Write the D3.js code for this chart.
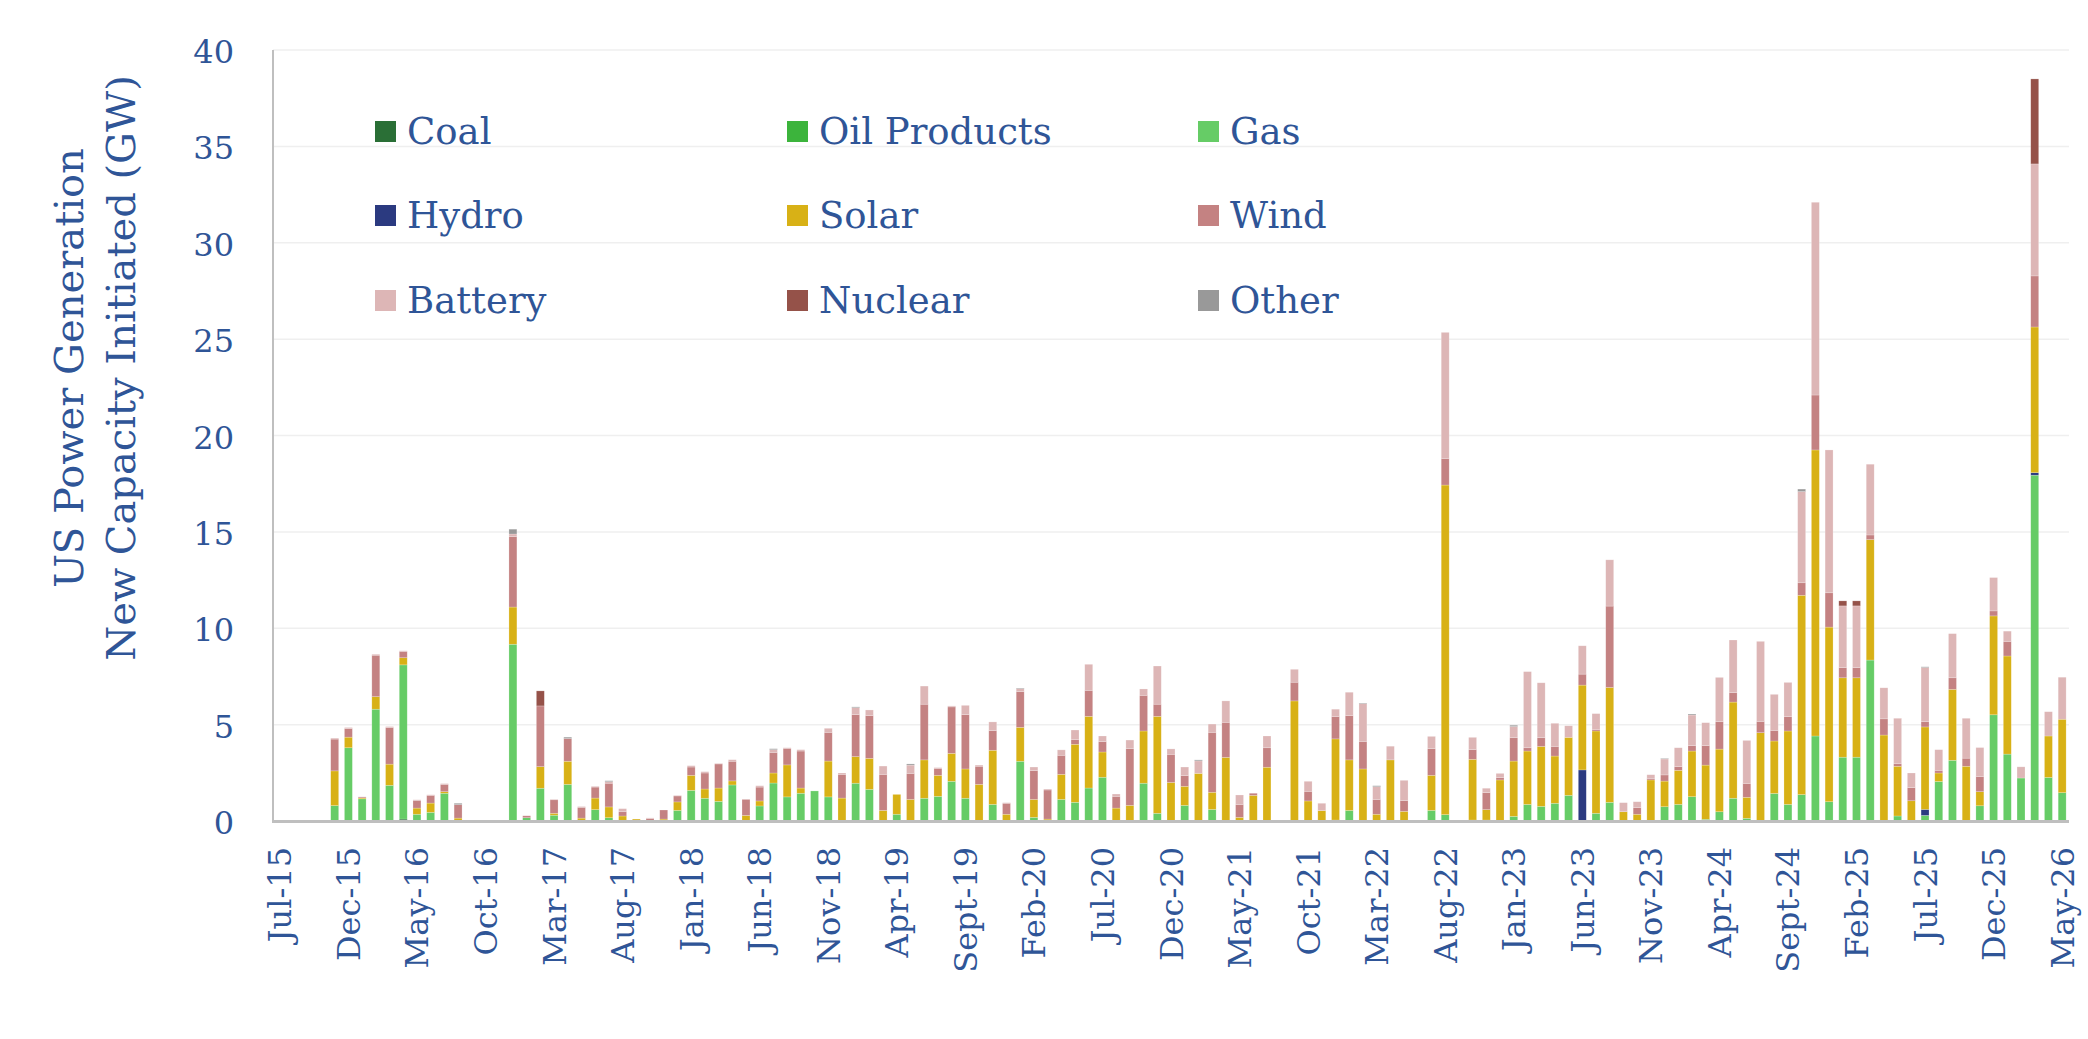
<!DOCTYPE html>
<html>
<head>
<meta charset="utf-8">
<script src="https://cdn.jsdelivr.net/npm/d3@7"></script>
<style>
  body { margin: 0; background: #fff; }
  svg text { font-family: "DejaVu Serif", "Liberation Serif", serif; fill: #2F5597; }
</style>
</head>
<body>
<div id="chart"></div>
<script>
// monthly categories, Jul-15 .. May-26
var months = d3.timeMonth.range(new Date(2015, 6, 1), new Date(2026, 5, 1));

// every 5th month is labelled
var tickLabels = ["Jul-15","Dec-15","May-16","Oct-16","Mar-17","Aug-17","Jan-18","Jun-18","Nov-18",
  "Apr-19","Sept-19","Feb-20","Jul-20","Dec-20","May-21","Oct-21","Mar-22","Aug-22","Jan-23",
  "Jun-23","Nov-23","Apr-24","Sept-24","Feb-25","Jul-25","Dec-25","May-26"];

var yTicks = [0, 5, 10, 15, 20, 25, 30, 35, 40];

// GW initiated per month, one row = 10 months
var coal = [
  0,0,0,0,0,0,0,0,0,0.1,
  0,0,0,0,0,0,0,0,0,0,
  0,0,0,0,0,0,0,0,0,0,
  0,0,0,0,0,0,0,0,0,0,
  0,0,0,0,0,0,0,0,0,0,
  0,0,0,0,0,0,0,0,0,0,
  0,0,0,0,0,0,0,0,0,0,
  0,0,0,0,0,0,0,0,0,0,
  0,0,0,0,0,0,0,0,0,0,
  0,0,0,0,0,0,0,0,0,0,
  0,0,0,0,0,0,0,0,0,0,
  0,0,0,0,0,0,0,0,0,0,
  0,0,0,0,0,0,0,0,0,0,
  0];
var oil = [
  0,0,0,0,0,0,0,0,0,0,
  0,0,0,0,0,0,0,0,0,0,
  0,0,0,0,0,0,0,0,0,0,
  0,0,0,0,0,0,0,0,0,0,
  0,0,0,0,0,0,0,0,0,0,
  0,0,0,0,0,0,0,0,0,0,
  0,0,0,0,0,0,0,0,0,0,
  0,0,0,0,0,0,0,0,0,0,
  0,0,0,0,0,0,0,0,0,0,
  0,0,0,0,0,0,0,0,0,0,
  0,0,0,0,0,0,0,0,0,0,
  0,0,0,0,0,0,0,0,0,0,
  0,0,0,0,0,0,0,0,0,0,
  0];
var gas = [
  0,0,0,0,0.8,3.8,1.15,5.8,1.85,8.0,
  0.35,0.45,1.44,0,0,0,0,9.17,0.17,1.7,
  0.3,1.9,0,0.59,0.17,0,0,0,0,0.55,
  1.59,1.18,1.02,1.87,0,0.78,1.97,1.25,1.44,1.56,
  1.25,0,1.96,1.64,0,0.35,0,1.18,1.28,2.06,
  1.18,0,0.86,0,3.1,0.19,0,1.12,0.97,1.71,
  2.27,0,0,1.96,0.4,0,0.81,0,0.6,0,
  0,0,0,0,0,0,0,0.05,0.55,0,
  0,0,0.03,0,0.55,0.33,0,0.05,0.05,0,
  0.24,0.86,0.76,0.92,1.33,0,0.4,0.97,0,0,
  0,0.74,0.86,1.26,0.09,0.48,1.18,0.14,0,1.43,
  0.86,1.37,4.41,1.0,3.31,3.31,8.35,0,0.26,0,
  0.29,2.05,3.15,0,0.79,5.51,3.47,2.23,17.94,2.26,
  1.47];
var hydro = [
  0,0,0,0,0,0,0,0,0,0,
  0,0,0,0,0,0,0,0,0,0,
  0,0,0,0,0,0,0,0,0,0,
  0,0,0,0,0,0,0,0,0,0,
  0,0,0,0,0,0,0,0,0,0,
  0,0,0,0,0,0,0,0,0,0,
  0,0,0,0,0,0,0,0,0,0,
  0,0,0,0,0,0,0,0,0,0,
  0,0,0,0,0,0,0,0,0,0,
  0,0,0,0,0,2.65,0,0,0,0,
  0,0,0,0,0,0,0,0,0,0,
  0,0,0,0,0,0,0,0,0,0,
  0.31,0,0,0,0,0,0,0,0.13,0,
  0];
var solar = [
  0,0,0,0,1.8,0.55,0.05,0.65,1.1,0.37,
  0.32,0.48,0.08,0.15,0,0,0,1.93,0,1.12,
  0.1,1.2,0.15,0.6,0.56,0.26,0.1,0,0.1,0.44,
  0.78,0.48,0.69,0.21,0.29,0.26,0.52,1.66,0.27,0,
  1.86,1.19,1.38,1.61,0.55,1.03,1.12,1.99,1.09,1.45,
  1.52,1.9,2.81,0.35,1.76,0.93,0.1,1.3,3.01,3.72,
  1.31,0.67,0.81,2.71,5.03,2.0,0.99,2.47,0.89,3.3,
  0.19,1.33,2.79,0,6.23,1.04,0.54,4.21,2.62,2.7,
  0.35,3.17,0.47,0,1.82,17.1,0,3.15,0.54,2.13,
  2.87,2.77,3.11,2.45,3.01,4.4,4.27,5.96,0.48,0.35,
  2.13,1.33,1.77,2.37,2.81,3.25,4.99,1.09,4.58,2.72,
  3.81,10.34,14.84,9.06,4.12,4.12,6.25,4.46,2.58,1.05,
  4.28,0.44,3.68,2.84,0.73,5.13,5.09,0,7.56,2.15,
  3.81];
var wind = [
  0,0,0,0,1.65,0.45,0.05,2.15,1.9,0.33,
  0.4,0.4,0.38,0.7,0,0,0,3.65,0.1,3.15,
  0.7,1.18,0.56,0.57,1.23,0.22,0,0.12,0.47,0.31,
  0.43,0.83,1.25,1.02,0.83,0.72,1.07,0.86,1.92,0,
  1.49,1.23,2.18,2.22,1.87,0,1.35,2.89,0.36,2.41,
  2.82,0.94,1.02,0.57,1.85,1.49,1.51,0.99,0.24,1.35,
  0.54,0.61,2.94,1.85,0.63,1.46,0.55,0,3.11,1.82,
  0.67,0.11,1.01,0,0.97,0.5,0,1.16,2.3,1.43,
  0.77,0,0.56,0,1.38,1.38,0,0.5,0.88,0.12,
  1.21,0.17,0.45,0.5,0,0.57,0.08,4.22,0,0.34,
  0.08,0.32,0.19,0.28,1.01,1.42,0.49,0.72,0.59,0.55,
  0.74,0.65,2.85,1.78,0.53,0.53,0.24,0.84,0.13,0.68,
  0.27,0.14,0.6,0.42,0.79,0.26,0.76,0,2.65,0,
  0];
var battery = [
  0,0,0,0,0.05,0.05,0,0.05,0.05,0.03,
  0.03,0.03,0.04,0,0,0,0,0.14,0,0,
  0.03,0,0.04,0.04,0.08,0.16,0,0.04,0,0.03,
  0.07,0.07,0.03,0.08,0,0.07,0.14,0.03,0.07,0,
  0.21,0.07,0.36,0.29,0.43,0,0.43,0.94,0.04,0.05,
  0.48,0.06,0.45,0.03,0.16,0.19,0.05,0.28,0.5,1.35,
  0.29,0.12,0.45,0.33,1.98,0.28,0.45,0.65,0.43,1.11,
  0.49,0,0.61,0,0.67,0.52,0.38,0.38,1.21,1.96,
  0.66,0.71,1.05,0,0.64,6.54,0,0.64,0.23,0.22,
  0.58,3.95,2.85,1.2,0.6,1.47,0.82,2.4,0.47,0.31,
  0.19,0.83,0.98,1.59,1.19,2.3,2.73,2.23,4.15,1.87,
  1.78,4.73,10.0,7.41,3.2,3.2,3.67,1.61,2.36,0.76,
  2.81,1.07,2.29,2.07,1.5,1.73,0.53,0.58,5.81,1.26,
  2.18];
var nuclear = [
  0,0,0,0,0,0,0,0,0,0,
  0,0,0,0,0,0,0,0,0,0.78,
  0,0,0,0,0,0,0,0,0,0,
  0,0,0,0,0,0,0,0,0,0,
  0,0,0,0,0,0,0,0,0,0,
  0,0,0,0,0,0,0,0,0,0,
  0,0,0,0,0,0,0,0,0,0,
  0,0,0,0,0,0,0,0,0,0,
  0,0,0,0,0,0,0,0,0,0,
  0,0,0,0,0,0,0,0,0,0,
  0,0,0,0,0,0,0,0,0,0,
  0,0,0,0,0.26,0.26,0,0,0,0,
  0,0,0,0,0,0,0,0,4.41,0,
  0];
var other = [
  0,0,0,0,0,0,0,0,0,0,
  0,0,0,0.07,0,0,0,0.25,0,0,
  0,0.07,0,0,0.05,0,0,0,0,0,
  0,0,0,0,0,0,0.05,0,0,0,
  0,0,0.04,0,0,0,0.06,0,0,0,
  0,0,0,0,0.03,0,0,0,0,0,
  0,0,0,0,0,0,0,0.05,0,0,
  0,0,0,0,0,0,0,0,0,0.03,
  0.05,0,0,0,0,0,0,0,0,0,
  0.07,0,0,0,0,0,0,0,0,0,
  0,0.03,0,0.05,0,0,0,0,0,0,
  0,0.13,0,0,0,0,0,0,0,0,
  0.04,0,0,0,0,0,0,0,0,0,
  0];

var seriesNames = ["Coal", "Oil Products", "Gas", "Hydro", "Solar", "Wind", "Battery", "Nuclear", "Other"];
var seriesValues = [coal, oil, gas, hydro, solar, wind, battery, nuclear, other];
var seriesColors = ["#2A6F36", "#3CB43C", "#66CC66", "#2B3A80", "#D8B116", "#C48282", "#DDB6B6", "#955249", "#999999"];

var width = 2088, height = 1039;
var plot = { left: 273, right: 2069, top: 50, bottom: 821 };

var svg = d3.select("#chart").append("svg")
  .attr("width", width)
  .attr("height", height);

svg.append("rect").attr("width", width).attr("height", height).attr("fill", "#fff");

// rows for stacking
var rows = months.map(function (m, i) {
  var r = { i: i };
  seriesNames.forEach(function (k, j) { r[k] = seriesValues[j][i]; });
  return r;
});
var stacked = d3.stack().keys(seriesNames)(rows);

var x = d3.scaleBand()
  .domain(d3.range(months.length))
  .range([plot.left, plot.right])
  .paddingInner(0.42)
  .paddingOuter(0.21);

var y = d3.scaleLinear().domain([0, 40]).range([plot.bottom, plot.top]);

// gridlines
svg.append("g").selectAll("line")
  .data(yTicks.slice(1))
  .enter().append("line")
  .attr("x1", plot.left).attr("x2", plot.right)
  .attr("y1", function (d) { return y(d); })
  .attr("y2", function (d) { return y(d); })
  .attr("stroke", "#EFEFEF")
  .attr("stroke-width", 1.5);

// y tick labels
svg.append("g").selectAll("text")
  .data(yTicks)
  .enter().append("text")
  .attr("x", 234)
  .attr("y", function (d) { return y(d) + 13; })
  .attr("text-anchor", "end")
  .style("font-size", "32px")
  .text(function (d) { return d; });

// bars
var layer = svg.append("g").selectAll("g")
  .data(stacked)
  .enter().append("g")
  .attr("fill", function (d, i) { return seriesColors[i]; });

layer.selectAll("rect")
  .data(function (d) { return d.filter(function (p) { return p[1] - p[0] > 0; }); })
  .enter().append("rect")
  .attr("x", function (d) { return x(d.data.i); })
  .attr("width", x.bandwidth())
  .attr("y", function (d) { return y(d[1]); })
  .attr("height", function (d) { return y(d[0]) - y(d[1]); })
  .attr("stroke", "rgba(255,255,255,0.35)")
  .attr("stroke-width", 0.6);

// axis lines
svg.append("line")
  .attr("x1", plot.left).attr("x2", plot.left)
  .attr("y1", plot.top).attr("y2", plot.bottom)
  .attr("stroke", "#BFBFBF").attr("stroke-width", 2);
svg.append("line")
  .attr("x1", plot.left - 1).attr("x2", plot.right)
  .attr("y1", plot.bottom + 0.5).attr("y2", plot.bottom + 0.5)
  .attr("stroke", "#BFBFBF").attr("stroke-width", 3);

// x tick labels (every 5th month)
svg.append("g").selectAll("text")
  .data(tickLabels)
  .enter().append("text")
  .attr("transform", function (d, k) {
    var cx = x(k * 5) + x.bandwidth() / 2;
    return "translate(" + cx + ",847) rotate(-90)";
  })
  .attr("dy", "0.36em")
  .attr("text-anchor", "end")
  .style("font-size", "32px")
  .text(function (d) { return d; });

// y axis title
var title = ["US Power Generation", "New Capacity Initiated (GW)"];
svg.append("g").selectAll("text")
  .data(title)
  .enter().append("text")
  .attr("transform", function (d, i) {
    return "translate(" + (83 + i * 52) + ",368) rotate(-90)";
  })
  .attr("text-anchor", "middle")
  .style("font-size", "40px")
  .text(function (d) { return d; });

// legend, 3 x 3
var legendX = [375, 787, 1198];
var legendY = [121, 205, 290];
var legend = svg.append("g").selectAll("g")
  .data(seriesNames)
  .enter().append("g")
  .attr("transform", function (d, i) {
    return "translate(" + legendX[i % 3] + "," + legendY[Math.floor(i / 3)] + ")";
  });
legend.append("rect")
  .attr("width", 21).attr("height", 21)
  .attr("fill", function (d, i) { return seriesColors[i]; });
legend.append("text")
  .attr("x", 32)
  .attr("y", 23)
  .style("font-size", "37px")
  .text(function (d) { return d; });
</script>
</body>
</html>
